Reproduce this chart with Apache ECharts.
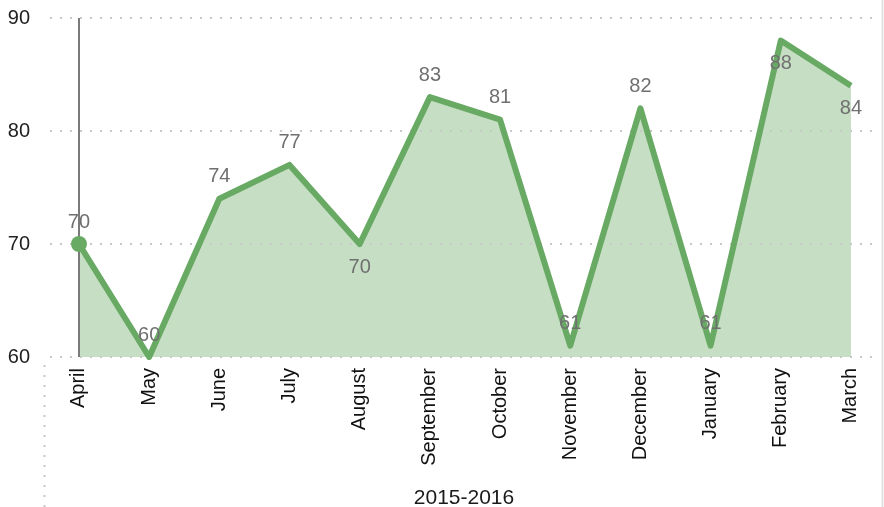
<!DOCTYPE html>
<html>
<head>
<meta charset="utf-8">
<title>2015-2016</title>
<script src="https://cdn.jsdelivr.net/npm/echarts@6/dist/echarts.min.js"></script>
<style>
    html, body { margin: 0; padding: 0; background: #fff; }
    #main { width: 884px; height: 507px; }
</style>
</head>
<body>
<div id="main"></div>
<script>
// data
var months = ['April', 'May', 'June', 'July', 'August', 'September', 'October',
    'November', 'December', 'January', 'February', 'March'];
var scores = [70, 60, 74, 77, 70, 83, 81, 61, 82, 61, 88, 84];
var yTicks = [60, 70, 80, 90];

// labels drawn under the point instead of above
var labelBelow = [4, 10, 11];

var lineColor = '#68aa63';
var fillColor = '#c6dfc4';
var dotSize = 16;

var points = scores.map(function (v, i) {
    return [i, v];
});

var lineData = points.map(function (p, i) {
    var below = labelBelow.indexOf(i) >= 0;
    var dist = below ? 13 : 12;
    if (i === 0) dist -= dotSize / 2;  // first point carries the round marker
    return {
        value: p,
        label: {position: below ? 'bottom' : 'top', distance: dist}
    };
});

var myChart = echarts.init(document.getElementById('main'));

var option = {
    animation: false,
    grid: {
        left: 50,
        right: 12,
        top: 18,
        bottom: 150,
        containLabel: false,
        outerBoundsMode: 'none'
    },
    xAxis: {
        type: 'value',
        min: -0.413,
        max: 11.3,
        name: '2015-2016',
        nameLocation: 'middle',
        nameGap: 131,
        nameTextStyle: {color: '#1a1a1a', fontSize: 21, fontFamily: 'Liberation Sans', padding: [0, 0, 0, 6]},
        axisLine: {show: false},
        axisTick: {show: false},
        splitLine: {show: false},
        axisLabel: {
            customValues: months.map(function (m, i) { return i; }),
            rotate: 90,
            margin: 11,
            color: '#111',
            fontSize: 20,
            fontFamily: 'Liberation Sans',
            formatter: function (v) {
                return months[Math.round(v)];
            }
        }
    },
    yAxis: {
        type: 'value',
        min: yTicks[0],
        max: yTicks[yTicks.length - 1],
        interval: 10,
        z: 3,
        axisLine: {show: false},
        axisTick: {show: false},
        axisLabel: {
            margin: 20,
            color: '#222',
            fontSize: 20,
            fontFamily: 'Liberation Sans'
        },
        splitLine: {
            lineStyle: {color: '#c8c8c8', width: 2, type: [2, 8]}
        }
    },
    graphic: [
        {
            type: 'line',
            shape: {x1: 44.5, y1: 365, x2: 44.5, y2: 507},
            style: {stroke: '#c8c8c8', lineWidth: 2, lineDash: [2, 8]}
        },
        {
            type: 'line',
            shape: {x1: 882.5, y1: 0, x2: 882.5, y2: 507},
            style: {stroke: '#e2e2e2', lineWidth: 2}
        }
    ],
    series: [
        {
            // area fill + y axis line at April
            type: 'line',
            data: points,
            z: 1,
            silent: true,
            symbol: 'none',
            lineStyle: {width: 0},
            areaStyle: {color: fillColor, opacity: 1},
            markLine: {
                silent: true,
                symbol: 'none',
                label: {show: false},
                lineStyle: {color: '#7a7a7a', width: 2, type: 'solid'},
                data: [{xAxis: 0}]
            }
        },
        {
            type: 'line',
            data: lineData,
            z: 5,
            symbol: 'circle',
            symbolSize: function (v, params) {
                return params.dataIndex === 0 ? dotSize : 0;
            },
            itemStyle: {color: lineColor},
            lineStyle: {color: lineColor, width: 6, join: 'round'},
            label: {
                show: true,
                color: '#707070',
                fontSize: 20,
                fontFamily: 'Liberation Sans',
                formatter: function (p) {
                    return p.value[1];
                }
            }
        }
    ]
};

myChart.setOption(option);
window.onresize = myChart.resize;
</script>
</body>
</html>
